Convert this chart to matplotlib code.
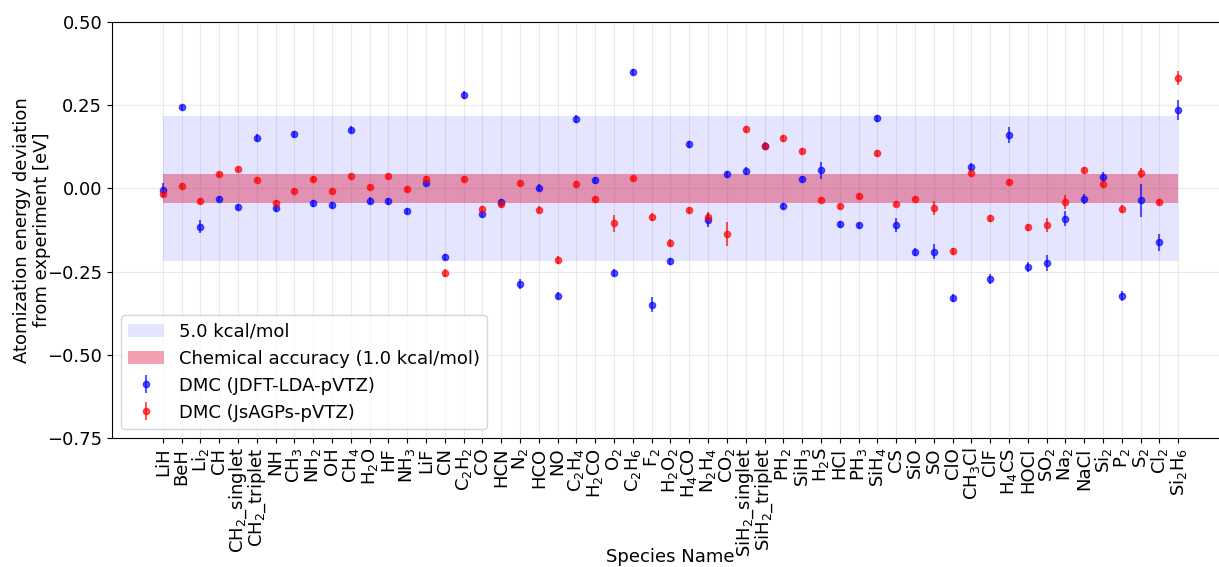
import matplotlib
matplotlib.use("Agg")
import matplotlib.pyplot as plt
import numpy as np

species = ['LiH', 'BeH', 'Li$_2$', 'CH', 'CH$_2$_singlet', 'CH$_2$_triplet', 'NH', 'CH$_3$',
           'NH$_2$', 'OH', 'CH$_4$', 'H$_2$O', 'HF', 'NH$_3$', 'LiF', 'CN', 'C$_2$H$_2$', 'CO',
           'HCN', 'N$_2$', 'HCO', 'NO', 'C$_2$H$_4$', 'H$_2$CO', 'O$_2$', 'C$_2$H$_6$', 'F$_2$',
           'H$_2$O$_2$', 'H$_4$CO', 'N$_2$H$_4$', 'CO$_2$', 'SiH$_2$_singlet', 'SiH$_2$_triplet',
           'PH$_2$', 'SiH$_3$', 'H$_2$S', 'HCl', 'PH$_3$', 'SiH$_4$', 'CS', 'SiO', 'SO', 'ClO',
           'CH$_3$Cl', 'ClF', 'H$_4$CS', 'HOCl', 'SO$_2$', 'Na$_2$', 'NaCl', 'Si$_2$', 'P$_2$',
           'S$_2$', 'Cl$_2$', 'Si$_2$H$_6$']

# deviations [eV]
dmc_jdft = [-0.005, 0.244, -0.115, -0.031, -0.056, 0.152, -0.060, 0.163,
            -0.045, -0.050, 0.176, -0.037, -0.039, -0.068, 0.016, -0.206, 0.281, -0.077,
            -0.041, -0.286, 0.002, -0.322, 0.210, 0.024, -0.253, 0.350, -0.349,
            -0.219, 0.132, -0.095, 0.042, 0.052, 0.128,
            -0.053, 0.028, 0.054, -0.108, -0.111, 0.211, -0.110, -0.191, -0.190, -0.328,
            0.064, -0.272, 0.160, -0.237, -0.224, -0.091, -0.033, 0.034, -0.322,
            -0.036, -0.162, 0.236]
dmc_jdft_err = [0.02, 0.008, 0.02, 0.008, 0.01, 0.01, 0.01, 0.01,
                0.01, 0.01, 0.01, 0.01, 0.01, 0.01, 0.01, 0.01, 0.012, 0.01,
                0.01, 0.015, 0.01, 0.01, 0.012, 0.01, 0.01, 0.01, 0.022,
                0.01, 0.01, 0.02, 0.01, 0.012, 0.01,
                0.01, 0.01, 0.025, 0.01, 0.008, 0.01, 0.022, 0.012, 0.022, 0.012,
                0.012, 0.015, 0.025, 0.015, 0.025, 0.022, 0.015, 0.015, 0.015,
                0.05, 0.025, 0.03]

dmc_jsagps = [-0.017, 0.008, -0.038, 0.042, 0.057, 0.026, -0.043, -0.008,
              0.028, -0.009, 0.036, 0.003, 0.036, -0.003, 0.028, -0.253, 0.028, -0.062,
              -0.048, 0.015, -0.064, -0.215, 0.013, -0.032, -0.105, 0.030, -0.086,
              -0.163, -0.065, -0.085, -0.137, 0.177, 0.126,
              0.150, 0.112, -0.034, -0.054, -0.023, 0.105, -0.046, -0.031, -0.059, -0.189,
              0.047, -0.090, 0.019, -0.117, -0.110, -0.041, 0.055, 0.013, -0.063,
              0.046, -0.041, 0.332]
dmc_jsagps_err = [0.01, 0.008, 0.008, 0.008, 0.008, 0.008, 0.008, 0.008,
                  0.008, 0.008, 0.008, 0.008, 0.008, 0.008, 0.008, 0.012, 0.008, 0.01,
                  0.01, 0.008, 0.01, 0.012, 0.008, 0.008, 0.025, 0.008, 0.012,
                  0.012, 0.008, 0.015, 0.035, 0.01, 0.01,
                  0.01, 0.01, 0.008, 0.008, 0.008, 0.01, 0.008, 0.008, 0.02, 0.01,
                  0.012, 0.01, 0.01, 0.01, 0.02, 0.02, 0.01, 0.01, 0.012,
                  0.015, 0.01, 0.02]

kcal_to_ev = 0.0433641

plt.rcParams['font.size'] = 13

fig = plt.figure(figsize=(12.19, 5.67), dpi=100)
# axes runs a little past the right edge of the figure, like the original
ax = fig.add_axes([112 / 1219, 1 - 438 / 567, 1117 / 1219, 416 / 567])

x = np.arange(len(species))
ax.fill_between(x, -5.0 * kcal_to_ev, 5.0 * kcal_to_ev, color='blue', alpha=0.1,
                linewidth=0, label='5.0 kcal/mol')
ax.fill_between(x, -1.0 * kcal_to_ev, 1.0 * kcal_to_ev, color='crimson', alpha=0.4,
                linewidth=0, label='Chemical accuracy (1.0 kcal/mol)')

ax.errorbar(x, dmc_jdft, yerr=dmc_jdft_err, fmt='o', color='blue', alpha=0.65,
            markersize=4.5, label='DMC (JDFT-LDA-pVTZ)')
ax.errorbar(x, dmc_jsagps, yerr=dmc_jsagps_err, fmt='o', color='red', alpha=0.65,
            markersize=4.5, label='DMC (JsAGPs-pVTZ)')

ax.set_xticks(x)
ax.set_xticklabels(species, rotation=90)
ax.set_xlim(-2.7, 56.7)
ax.set_ylim(-0.75, 0.5)
ax.set_yticks([-0.75, -0.5, -0.25, 0.0, 0.25, 0.5])
ax.grid(True, alpha=0.25)
ax.set_axisbelow(True)
ax.set_xlabel('Species Name')
ax.xaxis.set_label_coords(0.5, -0.265)
ax.set_ylabel('Atomization energy deviation\nfrom experiment [eV]', labelpad=-3)
ax.legend(loc='lower left')

fig.savefig('out.png', dpi=100)
